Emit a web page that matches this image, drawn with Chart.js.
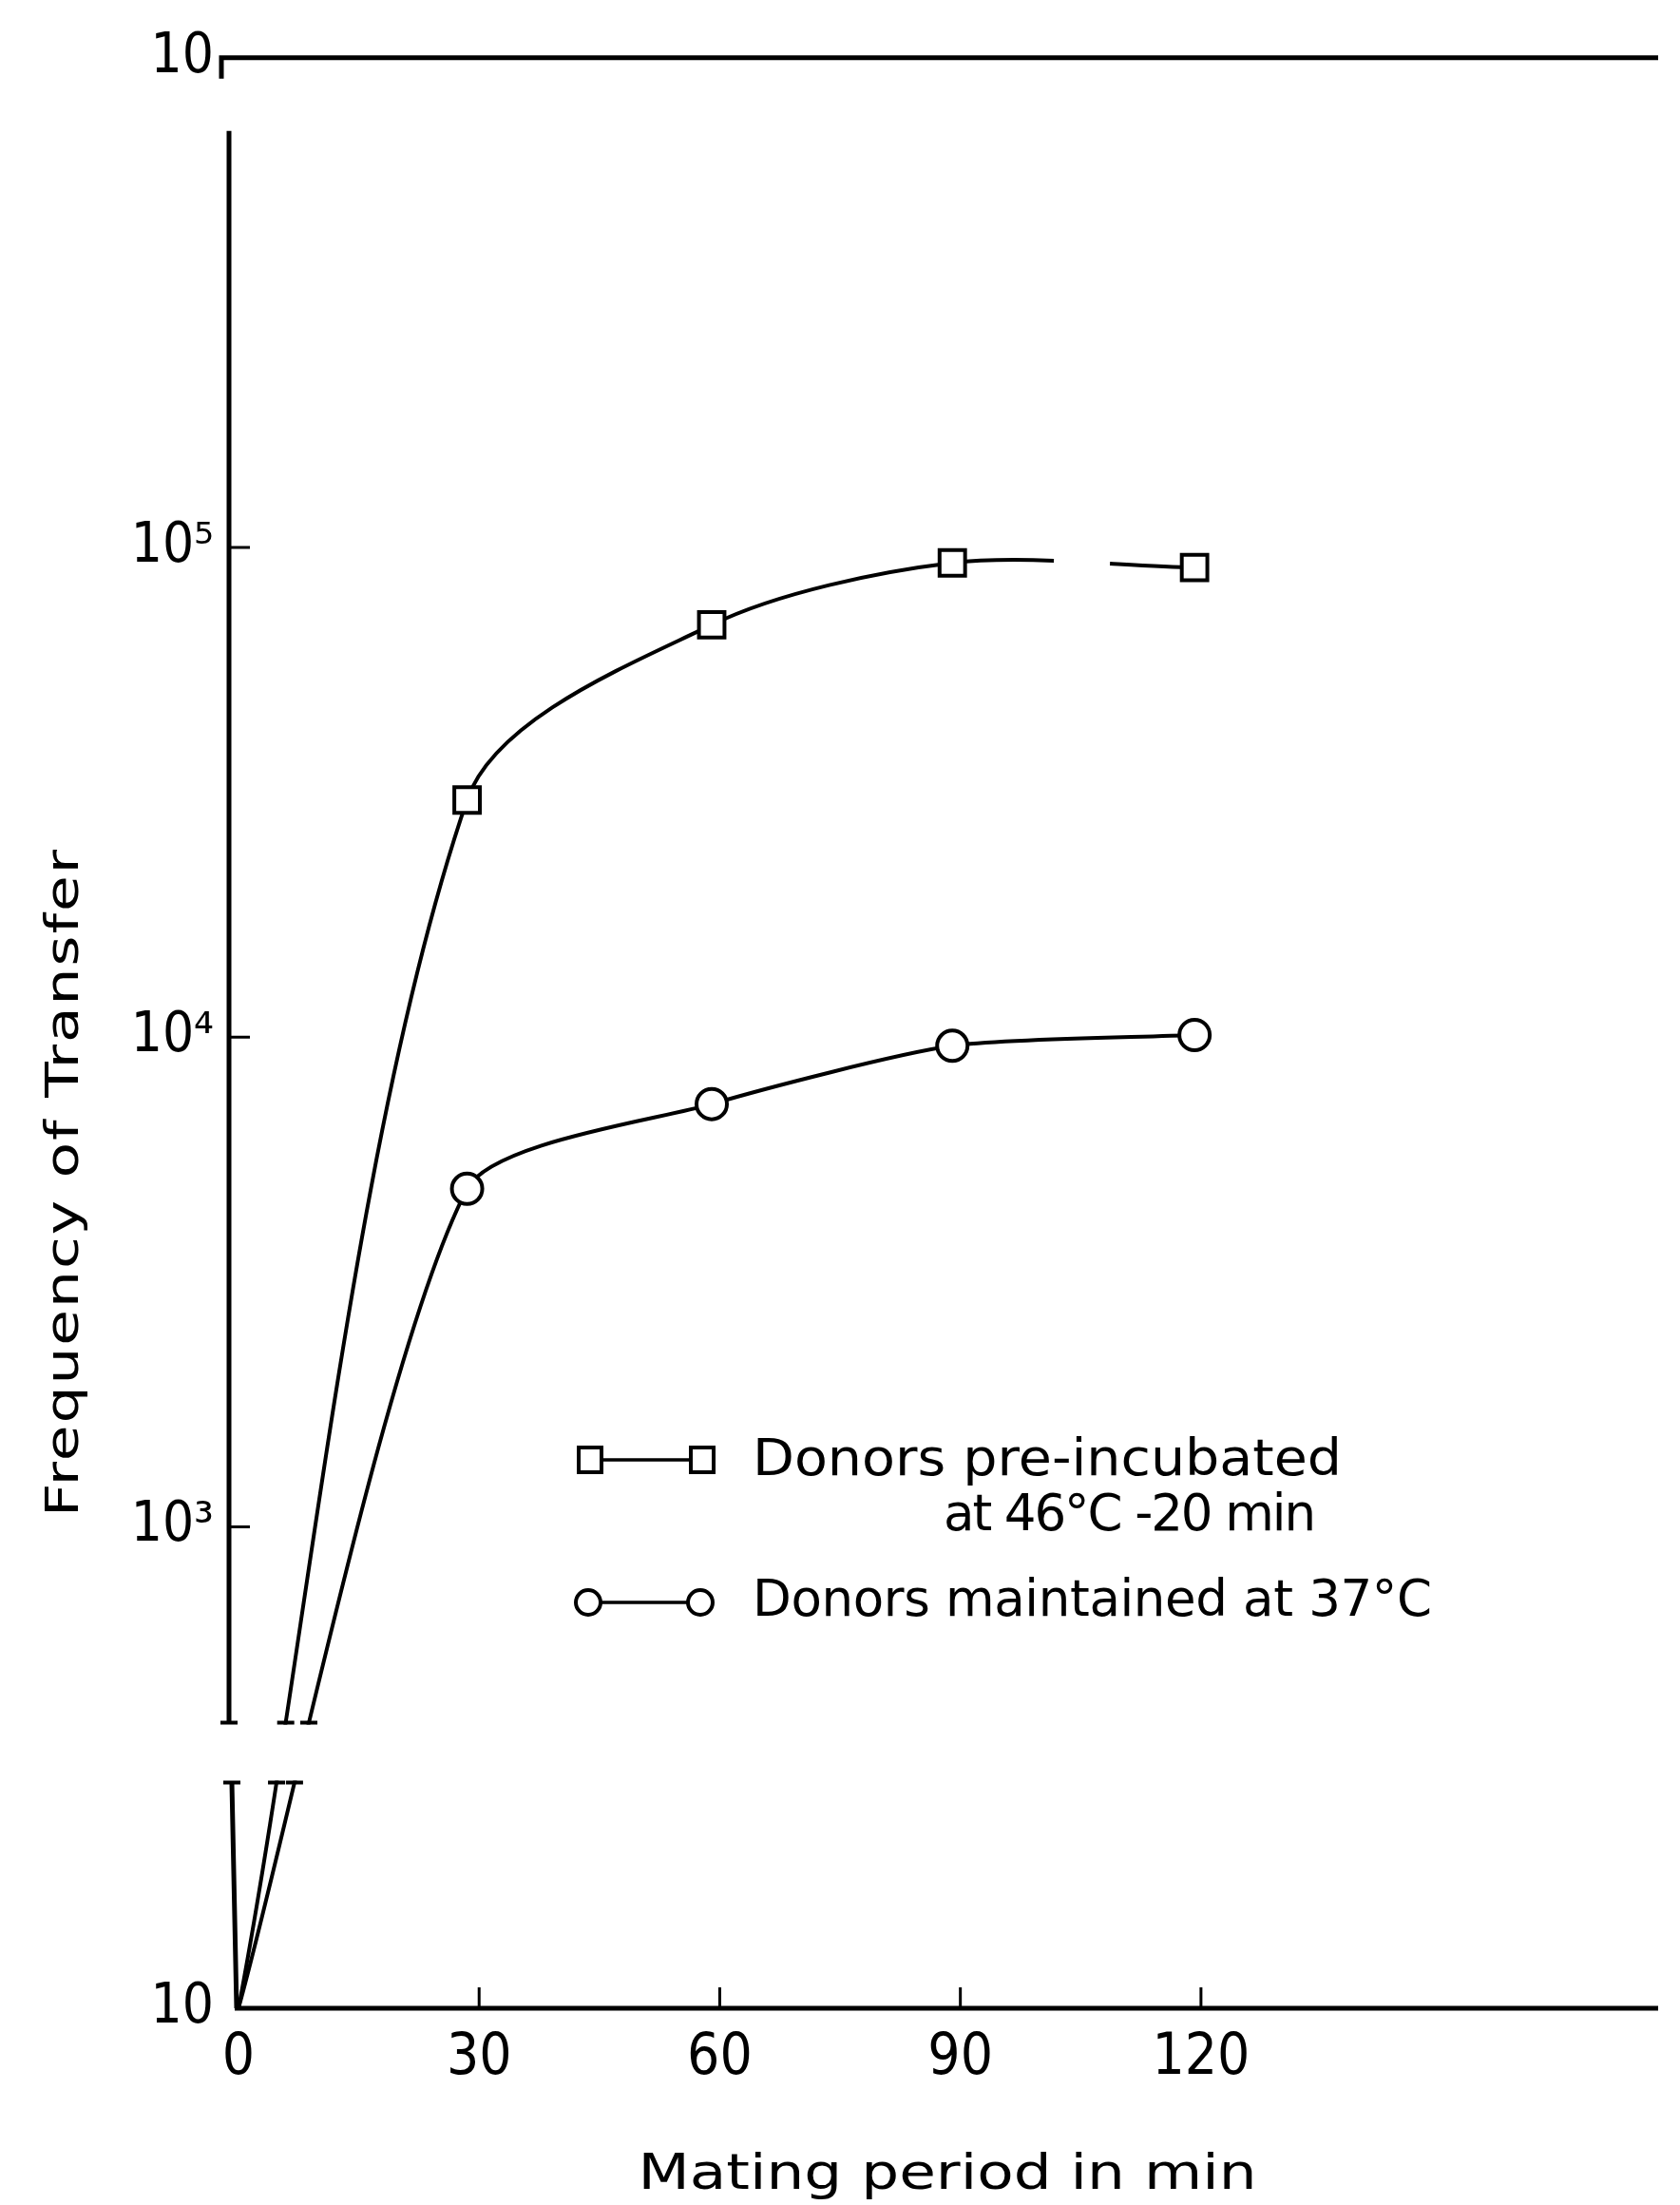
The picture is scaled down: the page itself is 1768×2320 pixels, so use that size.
<!DOCTYPE html>
<html>
<head>
<meta charset="utf-8">
<title>Frequency of transfer vs mating period</title>
<script src="https://cdn.jsdelivr.net/npm/chart.js@4.4.1/dist/chart.umd.min.js"></script>
<style>
  html, body { margin: 0; padding: 0; background: #fff; }
  canvas { display: block; }
</style>
</head>
<body>
<canvas id="chart" width="1768" height="2320"></canvas>
<script>
// mating period (min) at which transfer was scored
const matingTimes = [0, 28.5, 59, 89, 119.2];
// frequency of transfer, donors pre-incubated at 46°C for 20 min
const preIncubated = [10, 30500, 69500, 93000, 91000];
// frequency of transfer, donors maintained at 37°C
const maintained37 = [10, 4900, 7300, 9600, 10100];

const xTickValues = [0, 30, 60, 90, 120];
const yTickValues = [10, 1e3, 1e4, 1e5, 1e6];
const yTickLabels = ['10', '10³', '10⁴', '10⁵', '10'];

const legendLabels = ['Donors pre-incubated', 'at 46°C -20 min', 'Donors maintained at 37°C'];
const xTitle = 'Mating period in min';
const yTitle = 'Frequency of Transfer';

const INK = '#000';
const TEXT_FONT = '"DejaVu Sans", "Noto Sans", sans-serif';
const TICK_FONT = '"Liberation Sans Narrow", "DejaVu Sans Condensed", "Liberation Sans", sans-serif';

// log axis whose part below breakValue is squeezed into a short stub under the break
const LogScale = Chart.LogarithmicScale || Chart.registry.getScale('logarithmic');
class BrokenLogScale extends LogScale {
  decimalOf(value) {
    const lo = Math.log10(this.min), hi = Math.log10(this.max);
    const lb = Math.log10(this.options.breakValue);
    const db = this.options.breakDecimal;
    const l = Math.log10(value);
    if (l < lb) return (l - lo) / (lb - lo) * db;
    return db + (l - lb) / (hi - lb) * (1 - db);
  }
  getPixelForValue(value) {
    if (value === undefined || value === 0) value = this.min;
    if (value === null || isNaN(value)) return NaN;
    return this.getPixelForDecimal(this.decimalOf(value));
  }
  getValueForPixel(pixel) {
    const d = this.getDecimalForPixel(pixel);
    const lo = Math.log10(this.min), hi = Math.log10(this.max);
    const lb = Math.log10(this.options.breakValue);
    const db = this.options.breakDecimal;
    const l = d < db ? lo + d / db * (lb - lo) : lb + (d - db) / (1 - db) * (hi - lb);
    return Math.pow(10, l);
  }
}
BrokenLogScale.id = 'brokenLog';
BrokenLogScale.defaults = LogScale.defaults;
Chart.register(BrokenLogScale);

function toPoints(values) {
  return matingTimes.map((t, i) => ({ x: t, y: values[i] }));
}

// draw a line of text widened (stretch, then letter spacing) to a given width
function spacedText(ctx, text, x, y, size, width, align) {
  ctx.font = size + 'px ' + TEXT_FONT;
  ctx.letterSpacing = '0px';
  const w0 = ctx.measureText(text).width;
  const k = Math.min(Math.max(width / w0, 1), 1.28);
  const n = Array.from(text).length;
  ctx.letterSpacing = ((width / k - w0) / (n - 1)) + 'px';
  ctx.textAlign = 'left';
  ctx.textBaseline = 'alphabetic';
  ctx.save();
  ctx.translate(align === 'center' ? x - width / 2 : x, y);
  ctx.scale(k, 1);
  ctx.fillText(text, 0, 0);
  ctx.restore();
  ctx.letterSpacing = '0px';
}

// x of the first curve segment at a given pixel height
function curveXAt(meta, yTarget) {
  const p0 = meta.data[0], p1 = meta.data[1];
  const P = [p0.x, p0.y];
  const C1 = [p0.cp2x ?? p0.x, p0.cp2y ?? p0.y];
  const C2 = [p1.cp1x ?? p1.x, p1.cp1y ?? p1.y];
  const Q = [p1.x, p1.y];
  const at = (t, i) => {
    const u = 1 - t;
    return u * u * u * P[i] + 3 * u * u * t * C1[i] + 3 * u * t * t * C2[i] + t * t * t * Q[i];
  };
  let a = 0, b = 1;
  for (let k = 0; k < 40; k++) {
    const m = (a + b) / 2;
    if (at(m, 1) > yTarget) a = m; else b = m;
  }
  return at((a + b) / 2, 0);
}

const framePlugin = {
  id: 'frame',
  beforeDraw(chart) {
    const ctx = chart.ctx;
    ctx.save();
    ctx.fillStyle = '#fff';
    ctx.fillRect(0, 0, chart.width, chart.height);
    ctx.restore();
  },
  afterDraw(chart) {
    const ctx = chart.ctx;
    const area = chart.chartArea;
    const xs = chart.scales.x, ys = chart.scales.y;
    const breakTop = ys.getPixelForValue(ys.options.breakValue);
    const breakBottom = breakTop + 63;
    const axisX = area.left - 10;

    ctx.save();
    // gap of the broken axis
    ctx.fillStyle = '#fff';
    ctx.fillRect(area.left - 40, breakTop + 2, 200, breakBottom - breakTop - 4);

    ctx.strokeStyle = INK;
    ctx.lineCap = 'butt';
    ctx.lineWidth = 5;
    ctx.beginPath();
    // top frame line with its small hook
    ctx.moveTo(axisX - 8, area.top + 22);
    ctx.lineTo(axisX - 8, area.top);
    ctx.lineTo(area.right, area.top);
    // y axis, upper part and stub under the break
    ctx.moveTo(axisX, area.top + 77);
    ctx.lineTo(axisX, breakTop);
    ctx.moveTo(axisX + 3, breakBottom);
    ctx.lineTo(area.left - 2, area.bottom);
    // x axis
    ctx.moveTo(area.left - 4, area.bottom);
    ctx.lineTo(area.right, area.bottom);
    ctx.stroke();

    // serifs at the cut ends
    ctx.lineWidth = 4;
    ctx.beginPath();
    const serif = (x, y) => { ctx.moveTo(x - 9, y); ctx.lineTo(x + 9, y); };
    serif(axisX, breakTop);
    serif(axisX + 3, breakBottom);
    chart.data.datasets.forEach((ds, i) => {
      const meta = chart.getDatasetMeta(i);
      serif(curveXAt(meta, breakTop), breakTop);
      serif(curveXAt(meta, breakBottom), breakBottom);
    });
    ctx.stroke();

    // inward tick marks
    ctx.lineWidth = 3;
    ctx.beginPath();
    yTickValues.slice(1, 4).forEach(v => {
      const py = ys.getPixelForValue(v);
      ctx.moveTo(axisX, py);
      ctx.lineTo(axisX + 22, py);
    });
    xTickValues.slice(1).forEach(v => {
      const px = xs.getPixelForValue(v);
      ctx.moveTo(px, area.bottom);
      ctx.lineTo(px, area.bottom - 22);
    });
    ctx.stroke();

    // axis titles
    ctx.fillStyle = INK;
    spacedText(ctx, xTitle, 997, 2303, 51, 651, 'center');
    ctx.save();
    ctx.translate(82, 1245);
    ctx.rotate(-Math.PI / 2);
    spacedText(ctx, yTitle, 0, 0, 48, 702, 'center');
    ctx.restore();

    // legend
    ctx.lineWidth = 3.5;
    ctx.beginPath();
    ctx.moveTo(621, 1536); ctx.lineTo(739, 1536);
    ctx.moveTo(619, 1686); ctx.lineTo(737, 1686);
    ctx.stroke();
    ctx.lineWidth = 4;
    ctx.fillStyle = '#fff';
    [621, 739].forEach(cx => {
      ctx.fillRect(cx - 12, 1536 - 13, 24, 26);
      ctx.strokeRect(cx - 12, 1536 - 13, 24, 26);
    });
    [619, 737].forEach(cx => {
      ctx.beginPath();
      ctx.arc(cx, 1686, 13, 0, Math.PI * 2);
      ctx.fill();
      ctx.stroke();
    });
    ctx.fillStyle = INK;
    spacedText(ctx, legendLabels[0], 792, 1552, 53, 620, 'left');
    spacedText(ctx, legendLabels[1], 993, 1610, 53, 392, 'left');
    spacedText(ctx, legendLabels[2], 792, 1700, 53, 715, 'left');
    ctx.restore();
  }
};

new Chart(document.getElementById('chart'), {
  type: 'line',
  data: {
    datasets: [
      {
        label: legendLabels[0] + ' ' + legendLabels[1],
        data: toPoints(preIncubated),
        pointStyle: 'rect',
        pointRadius: [0, 19, 19, 19, 19],
        tension: 0.3,
        // the drawn curve is interrupted between 90 and 120 min
        segment: {
          borderDash: c => (c.p0DataIndex === 3 ? [107, 59, 1000] : undefined)
        }
      },
      {
        label: legendLabels[2],
        data: toPoints(maintained37),
        pointStyle: 'circle',
        pointRadius: [0, 16, 16, 16, 16],
        tension: 0.22
      }
    ]
  },
  options: {
    responsive: false,
    animation: false,
    devicePixelRatio: 1,
    layout: { padding: { top: 50, right: 0, bottom: 0, left: 0 } },
    elements: {
      line: {
        borderColor: INK,
        borderWidth: 4,
        fill: false
      },
      point: {
        borderColor: INK,
        backgroundColor: '#fff',
        borderWidth: 4,
        hoverRadius: 0
      }
    },
    plugins: {
      legend: { display: false },
      tooltip: { enabled: false }
    },
    scales: {
      x: {
        type: 'linear',
        min: 0,
        max: 177,
        grid: { display: false, drawTicks: false },
        border: { display: false },
        afterBuildTicks: s => { s.ticks = xTickValues.map(v => ({ value: v })); },
        afterFit: s => { s.height = 207; },
        ticks: {
          color: INK,
          font: { family: TICK_FONT, size: 60 },
          padding: 17,
          autoSkip: false,
          maxRotation: 0
        }
      },
      y: {
        type: 'brokenLog',
        min: 10,
        max: 1e6,
        breakValue: 398,
        breakDecimal: 0.1464,
        grid: { display: false, drawTicks: false },
        border: { display: false },
        afterBuildTicks: s => { s.ticks = yTickValues.map(v => ({ value: v })); },
        afterFit: s => { s.width = 251; },
        ticks: {
          color: INK,
          font: { family: TICK_FONT, size: 58 },
          padding: 26,
          autoSkip: false,
          callback: (v, i) => yTickLabels[i]
        }
      }
    }
  },
  plugins: [framePlugin]
});
</script>
</body>
</html>
